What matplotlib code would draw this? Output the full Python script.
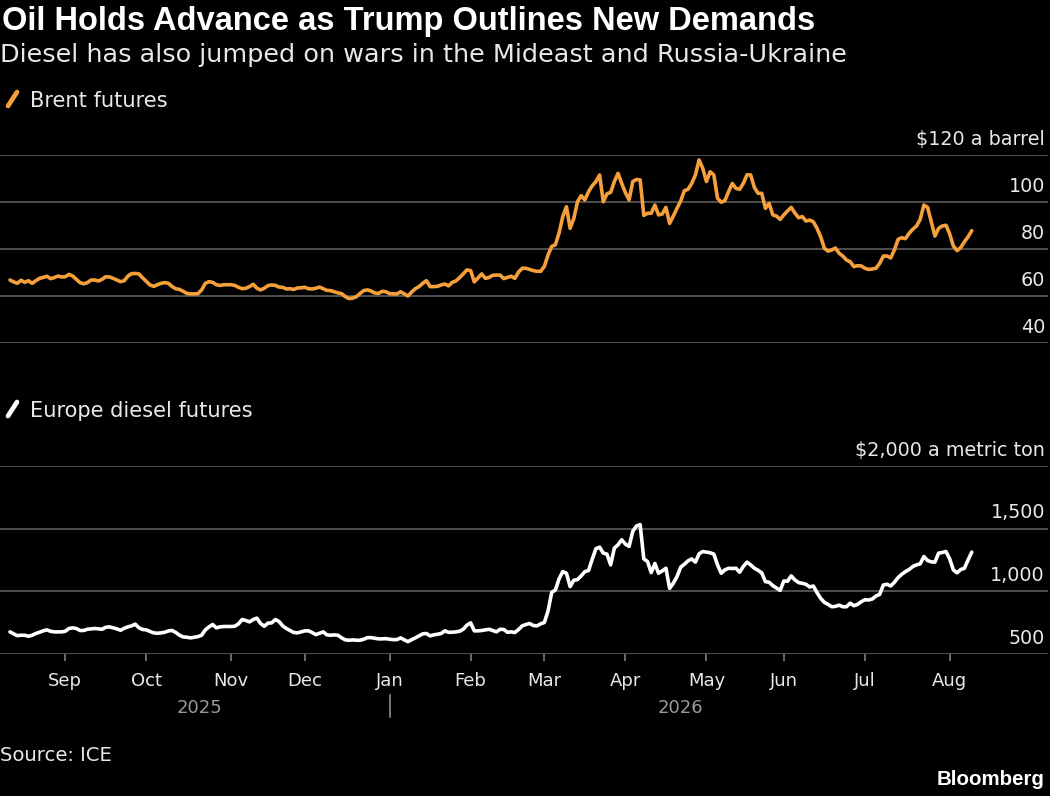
import numpy as np
import pandas as pd
import matplotlib
matplotlib.use("Agg")
import matplotlib.pyplot as plt
from matplotlib.lines import Line2D
import matplotlib.transforms as mtransforms

# ---------------- data ----------------
start_date = "2025-08-11"

brent = [
    66.8, 66.0, 65.4, 66.7, 65.8, 66.5, 65.4, 66.5, 67.5, 67.9,
    68.4, 67.4, 67.8, 68.5, 68.1, 68.2, 69.2, 68.5, 67.1, 65.7,
    65.2, 65.7, 66.8, 66.8, 66.4, 67.1, 68.2, 68.1, 67.5, 66.8,
    66.1, 66.5, 68.5, 69.5, 69.6, 69.4, 67.7, 66.2, 64.7, 64.1,
    64.8, 65.4, 65.7, 65.4, 64.0, 63.1, 62.8, 62.0, 61.1, 60.9,
    60.9, 61.0, 62.6, 65.4, 66.1, 65.8, 64.8, 64.5, 64.8, 64.8,
    64.8, 64.5, 63.7, 63.1, 63.3, 64.0, 65.0, 63.3, 62.6, 63.3,
    64.4, 64.7, 64.5, 63.8, 63.7, 63.0, 63.1, 62.8, 63.4, 63.5,
    63.7, 63.1, 63.0, 63.3, 63.8, 63.1, 62.4, 62.3, 61.8, 61.3,
    61.0, 59.7, 58.9, 59.1, 59.7, 61.1, 62.3, 62.6, 62.1, 61.3,
    61.1, 62.0, 61.8, 61.0, 60.9, 60.9, 61.8, 60.9, 60.0, 61.7,
    63.1, 64.0, 65.4, 66.5, 64.0, 64.0, 64.1, 64.7, 65.1, 64.3,
    65.8, 66.4, 67.8, 69.4, 71.1, 70.8, 66.0, 67.7, 69.4, 67.5,
    67.9, 68.8, 68.9, 68.9, 67.4, 67.9, 68.4, 67.5, 70.2, 71.8,
    71.8, 71.3, 70.8, 70.5, 70.5, 72.6, 77.4, 81.1, 81.8, 86.8,
    93.8, 98.0, 88.8, 93.0, 100.1, 102.7, 100.9, 104.4, 106.9, 108.7,
    111.5, 100.1, 103.5, 104.1, 108.7, 112.2, 107.9, 104.0, 100.9, 108.7,
    109.6, 109.4, 94.3, 95.2, 95.2, 98.7, 94.5, 94.9, 97.7, 90.9,
    94.0, 97.3, 100.4, 104.8, 105.4, 107.9, 111.5, 117.9, 114.3, 108.7,
    112.9, 111.5, 101.6, 99.9, 100.6, 104.4, 107.9, 105.8, 105.4, 107.9,
    111.6, 111.5, 106.2, 103.7, 103.7, 97.3, 99.4, 94.5, 94.0, 92.6,
    94.5, 96.2, 97.7, 95.3, 93.3, 93.8, 91.9, 92.3, 91.6, 88.8,
    85.2, 80.3, 79.1, 79.6, 80.4, 78.2, 77.0, 75.3, 74.6, 72.5,
    72.9, 72.8, 71.8, 71.3, 71.5, 71.8, 73.9, 77.0, 77.0, 76.2,
    79.6, 84.1, 84.8, 84.4, 86.7, 88.4, 89.8, 92.6, 98.7, 97.7,
    91.6, 85.5, 88.8, 89.8, 90.1, 86.4, 81.3, 79.3, 80.6, 83.1,
    85.2, 87.8,
]

diesel = [
    673, 657, 643, 646, 646, 638, 646, 660, 670, 681,
    689, 678, 673, 673, 673, 678, 700, 705, 700, 684,
    684, 694, 697, 700, 697, 694, 710, 713, 705, 697,
    686, 702, 713, 721, 735, 705, 692, 689, 676, 665,
    662, 665, 670, 681, 684, 668, 646, 633, 630, 625,
    630, 635, 646, 689, 713, 732, 705, 713, 716, 716,
    716, 718, 737, 772, 764, 753, 772, 783, 740, 718,
    743, 745, 772, 756, 721, 700, 684, 668, 665, 673,
    681, 681, 668, 651, 662, 673, 649, 646, 649, 646,
    625, 609, 606, 609, 606, 606, 614, 627, 627, 622,
    617, 617, 619, 614, 611, 611, 625, 609, 595, 611,
    625, 641, 657, 660, 641, 649, 654, 660, 681, 670,
    670, 673, 678, 694, 727, 745, 681, 681, 684, 689,
    694, 684, 673, 694, 692, 670, 673, 668, 692, 721,
    732, 740, 724, 721, 737, 748, 839, 989, 1008, 1097,
    1155, 1142, 1035, 1086, 1091, 1121, 1155, 1164, 1255, 1338,
    1351, 1303, 1295, 1209, 1343, 1370, 1410, 1375, 1357, 1477,
    1520, 1531, 1257, 1236, 1147, 1220, 1142, 1161, 1182, 1021,
    1062, 1115, 1190, 1214, 1241, 1257, 1231, 1298, 1316, 1311,
    1306, 1295, 1209, 1142, 1169, 1182, 1180, 1182, 1150, 1196,
    1231, 1209, 1182, 1166, 1145, 1075, 1070, 1043, 1024, 1005,
    1080, 1078, 1121, 1088, 1067, 1062, 1054, 1032, 1040, 987,
    941, 909, 893, 874, 877, 887, 874, 874, 903, 882,
    893, 914, 930, 928, 936, 960, 973, 1048, 1054, 1040,
    1070, 1107, 1134, 1155, 1172, 1196, 1209, 1217, 1276, 1244,
    1233, 1231, 1303, 1308, 1316, 1257, 1169, 1145, 1172, 1182,
    1249, 1311,
]

month_labels = ["Sep", "Oct", "Nov", "Dec", "Jan", "Feb", "Mar", "Apr",
                "May", "Jun", "Jul", "Aug"]
month_starts = ["2025-09-01", "2025-10-01", "2025-11-01", "2025-12-01",
                "2026-01-01", "2026-02-01", "2026-03-01", "2026-04-01",
                "2026-05-01", "2026-06-01", "2026-07-01", "2026-08-01"]
year_labels = ["2025", "2026"]
year_break = "2026-01-01"

brent_ticks = [40, 60, 80, 100, 120]
brent_tick_labels = ["40", "60", "80", "100", "$120 a barrel"]
diesel_ticks = [500, 1000, 1500, 2000]
diesel_tick_labels = ["500", "1,000", "1,500", "$2,000 a metric ton"]

title = "Oil Holds Advance as Trump Outlines New Demands"
subtitle = "Diesel has also jumped on wars in the Mideast and Russia-Ukraine"
brent_name = "Brent futures"
diesel_name = "Europe diesel futures"
source = "Source: ICE"
brand = "Bloomberg"

# ---------------- style ----------------
W, H = 1050, 796
BG = "#000000"
ORANGE = "#f5a03a"
WHITE = "#ffffff"
GRID = "#5c5c5c"
TXT = "#e8e8e8"
YEARC = "#9a9a9a"
BODY = "DejaVu Sans"
HEAD = "Liberation Sans"

dates = pd.bdate_range(start_date, periods=len(brent))
x = np.arange(len(dates))
tick_pos = [int(dates.searchsorted(pd.Timestamp(m))) for m in month_starts]
jan_pos = int(dates.searchsorted(pd.Timestamp(year_break)))

fig = plt.figure(figsize=(W / 100, H / 100), dpi=100, facecolor=BG)

def fx(px):
    return px / W

def fy(py):
    return 1 - py / H

px_per_day = 3.685
x0_px = 10.0
ax_right_px = 1048.0
xlim = (-x0_px / px_per_day, (ax_right_px - x0_px) / px_per_day)

def make_axes(top_px, bottom_px):
    ax = fig.add_axes([0, fy(bottom_px), fx(ax_right_px), (bottom_px - top_px) / H])
    ax.set_facecolor(BG)
    for s in ax.spines.values():
        s.set_visible(False)
    ax.set_xlim(*xlim)
    ax.grid(axis="y", color=GRID, linewidth=1.2)
    ax.set_axisbelow(True)
    ax.tick_params(axis="y", length=0, labelleft=False, labelright=False)
    return ax

LW = 2.6

ax1 = make_axes(155, 343)
ax1.set_ylim(40, 120)
ax1.set_yticks(brent_ticks)
ax1.plot(x, brent, color=ORANGE, linewidth=LW, solid_joinstyle="round",
         solid_capstyle="round", clip_on=False)
ax1.tick_params(axis="x", length=0, labelbottom=False)

ax2 = make_axes(466, 653.5)
ax2.set_ylim(500, 2000)
ax2.set_yticks(diesel_ticks)
ax2.plot(x, diesel, color=WHITE, linewidth=LW, solid_joinstyle="round",
         solid_capstyle="round", clip_on=False)

month_fs = 13.0
ax2.set_xticks(tick_pos)
ax2.set_xticklabels(month_labels, fontfamily=BODY, fontsize=month_fs, color=TXT)
ax2.tick_params(axis="x", length=5.2, width=1.1, color="#8a8a8a", pad=8,
                direction="out")

def right_labels(ax, ticks, labels):
    tr = mtransforms.blended_transform_factory(ax.transAxes, ax.transData)
    tr = tr + mtransforms.ScaledTranslation(0, 10 / 100, fig.dpi_scale_trans)
    out = []
    for t, l in zip(ticks, labels):
        out.append(ax.text(1045 / ax_right_px, t, l, transform=tr,
                           ha="right", va="baseline", color=TXT,
                           fontfamily=BODY, fontsize=13.5))
    return out

bl = right_labels(ax1, brent_ticks, brent_tick_labels)
dl = right_labels(ax2, diesel_ticks, diesel_tick_labels)

# titles
t_title = fig.text(fx(2), fy(30), title, color=WHITE, fontfamily=HEAD,
                   fontweight="bold", fontsize=20, ha="left", va="baseline")
t_sub = fig.text(fx(0), fy(62), subtitle, color=TXT, fontfamily=BODY,
                 fontsize=16, ha="left", va="baseline")
t_b = fig.text(fx(30), fy(107), brent_name, color=TXT, fontfamily=BODY,
               fontsize=15, ha="left", va="baseline")
t_d = fig.text(fx(30), fy(417), diesel_name, color=TXT, fontfamily=BODY,
               fontsize=15, ha="left", va="baseline")
t_src = fig.text(fx(0), fy(761), source, color=TXT, fontfamily=BODY,
                 fontsize=13, ha="left", va="baseline")
t_brand = fig.text(fx(1045), fy(785), brand, color=WHITE, fontfamily=HEAD,
                   fontweight="bold", fontsize=14, ha="right", va="baseline")

# legend slashes
for yc, col in ((99, ORANGE), (409, WHITE)):
    fig.add_artist(Line2D([fx(8), fx(17)], [fy(yc + 7), fy(yc - 7)],
                          transform=fig.transFigure, color=col, linewidth=3.4,
                          solid_capstyle="round"))

# year labels and separator
btr = mtransforms.blended_transform_factory(ax2.transData, fig.transFigure)
ax2.text((0 + jan_pos) / 2, fy(713), year_labels[0], transform=btr, ha="center",
         va="baseline", color=YEARC, fontfamily=BODY, fontsize=month_fs)
ax2.text((jan_pos + len(x) - 1) / 2, fy(713), year_labels[1], transform=btr,
         ha="center", va="baseline", color=YEARC, fontfamily=BODY, fontsize=month_fs)
ax2.add_artist(Line2D([jan_pos, jan_pos], [fy(695), fy(717)], transform=btr,
                      color=YEARC, linewidth=1.1, clip_on=False))

# fit text widths to the reference layout
fig.canvas.draw()
r = fig.canvas.get_renderer()

def fit(t, target):
    w = t.get_window_extent(r).width
    t.set_fontsize(t.get_fontsize() * target / w)

fit(t_title, 813)
fit(t_sub, 848)
fit(t_b, 138)
t_d.set_fontsize(t_b.get_fontsize())
fit(t_src, 112)
fit(t_brand, 108)
fit(bl[-1], 129)
for t in bl[:-1] + dl:
    t.set_fontsize(bl[-1].get_fontsize())

fig.savefig("out.png", dpi=100, facecolor=BG)
